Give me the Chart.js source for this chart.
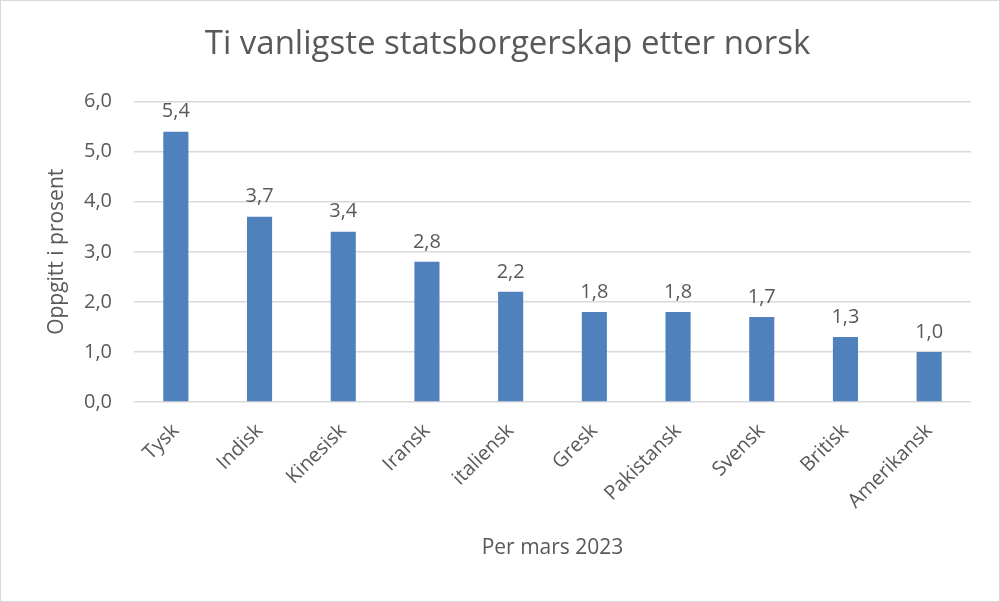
<!DOCTYPE html>
<html>
<head>
<meta charset="utf-8">
<script src="https://cdn.jsdelivr.net/npm/chart.js@4"></script>
<style>
    html, body { margin: 0; padding: 0; background: #ffffff; }
    #wrap {
        width: 998px; height: 600px;
        border: 1px solid #d9d9d9;
        position: relative;
    }
</style>
</head>
<body>
<div id="wrap"><canvas id="chart"></canvas></div>
<script>
const categories = ['Tysk', 'Indisk', 'Kinesisk', 'Iransk', 'italiensk', 'Gresk', 'Pakistansk', 'Svensk', 'Britisk', 'Amerikansk'];
const shares = [5.4, 3.7, 3.4, 2.8, 2.2, 1.8, 1.8, 1.7, 1.3, 1.0];
const yTicks = [0, 1, 2, 3, 4, 5, 6];

const FONT = "'Open Sans', sans-serif";
const TEXT = '#595959';

function fmt(v) {
    return v.toFixed(1).replace('.', ',');
}

// Value labels above each bar
const barLabels = {
    id: 'barLabels',
    afterDatasetsDraw(chart) {
        const ctx = chart.ctx;
        const meta = chart.getDatasetMeta(0);
        ctx.save();
        ctx.font = '20px ' + FONT;
        ctx.fillStyle = TEXT;
        ctx.textAlign = 'center';
        ctx.textBaseline = 'bottom';
        meta.data.forEach((bar, i) => {
            ctx.fillText(fmt(shares[i]), bar.x, bar.y - 10);
        });
        ctx.restore();
    }
};

Chart.defaults.font.family = FONT;
Chart.defaults.color = TEXT;

new Chart(document.getElementById('chart'), {
    type: 'bar',
    data: {
        labels: categories,
        datasets: [{
            data: shares,
            backgroundColor: '#4f81bd',
            barPercentage: 0.6,
            categoryPercentage: 0.5
        }]
    },
    options: {
        responsive: true,
        maintainAspectRatio: false,
        animation: false,
        layout: {
            padding: { left: 43, right: 28, top: 0, bottom: 40 }
        },
        plugins: {
            legend: { display: false },
            tooltip: { enabled: false },
            title: {
                display: true,
                text: 'Ti vanligste statsborgerskap etter norsk',
                color: TEXT,
                font: { size: 33, weight: 'normal' },
                padding: { top: 24, bottom: 37 }
            }
        },
        scales: {
            y: {
                min: 0,
                max: 6,
                afterBuildTicks: scale => {
                    scale.ticks = yTicks.map(v => ({ value: v }));
                },
                afterFit: scale => { scale.width = 90; },
                border: { display: false },
                grid: {
                    color: '#d9d9d9',
                    lineWidth: 1.5,
                    drawTicks: false
                },
                ticks: {
                    color: TEXT,
                    padding: 22,
                    font: { size: 20 },
                    callback: v => fmt(v)
                },
                title: {
                    display: true,
                    text: 'Oppgitt i prosent',
                    color: TEXT,
                    font: { size: 21 },
                    padding: 0
                }
            },
            x: {
                afterFit: scale => { scale.height = 159; },
                border: { display: false },
                grid: { display: false },
                ticks: {
                    color: TEXT,
                    padding: 9,
                    minRotation: 45,
                    maxRotation: 45,
                    autoSkip: false,
                    font: { size: 20 }
                },
                title: {
                    display: true,
                    text: 'Per mars 2023',
                    color: TEXT,
                    font: { size: 21 },
                    padding: { top: 4, bottom: 0 }
                }
            }
        }
    },
    plugins: [barLabels]
});
</script>
</body>
</html>
